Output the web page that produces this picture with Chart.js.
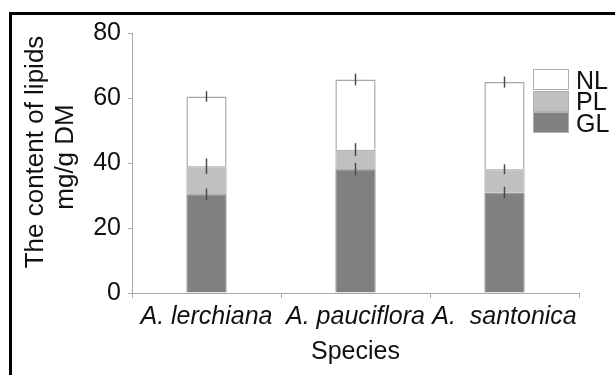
<!DOCTYPE html>
<html>
<head>
<meta charset="utf-8">
<script src="https://cdn.jsdelivr.net/npm/chart.js@4"></script>
<style>
    html, body { margin: 0; padding: 0; background: #fff; overflow: hidden; }
    #wrap { position: relative; width: 615px; height: 375px; }
    #frame {
        position: absolute; left: 9px; top: 12px; width: 620px; height: 380px;
        border-left: 3px solid #000; border-top: 3px solid #000; pointer-events: none;
    }
    .chart-html-legend { position: absolute; left: 533px; top: 69px; }
    .chart-legend-item { display: flex; align-items: center; height: 21.5px; }
    .chart-legend-color { width: 34px; height: 19px; border: 1px solid #b0b0b0; }
    .chart-legend-label {
        margin-left: 7px; font: 25px "Liberation Sans", Arial, sans-serif; color: #111; line-height: 20px;
    }
</style>
</head>
<body>
<div id="wrap">
    <canvas id="chart" width="615" height="375"></canvas>
    <div id="frame"></div>
</div>
<script>
const categories = ['A. lerchiana', 'A. pauciflora', 'A.  santonica'];
const glValues = [30.4, 38.1, 30.9];
const plValues = [8.6, 6.0, 7.2];
const nlValues = [21.5, 21.6, 26.8];
const glErrors = [1.8, 1.9, 1.8];
const plErrors = [2.4, 2.0, 1.5];
const nlErrors = [1.6, 1.8, 1.7];
const yTicks = [0, 20, 40, 60, 80];
const yTitleLines = ['The content of lipids', 'mg/g DM'];

const seriesErrors = [glErrors, plErrors, nlErrors];
const fontFamily = '"Liberation Sans", Arial, sans-serif';

// Error bars drawn at the top of each stacked segment
const errorBarPlugin = {
    id: 'errorBars',
    afterDatasetsDraw(chart) {
        const ctx = chart.ctx;
        const yScale = chart.scales.y;
        ctx.save();
        ctx.strokeStyle = '#4a4a4a';
        ctx.lineWidth = 1.5;
        chart.data.datasets.forEach((dataset, i) => {
            const meta = chart.getDatasetMeta(i);
            meta.data.forEach((bar, j) => {
                let top = 0;
                for (let k = 0; k <= i; k++) top += chart.data.datasets[k].data[j];
                const err = seriesErrors[i][j];
                ctx.beginPath();
                ctx.moveTo(bar.x, yScale.getPixelForValue(top + err));
                ctx.lineTo(bar.x, yScale.getPixelForValue(top - err));
                ctx.stroke();
            });
        });
        ctx.restore();
    }
};

// Rotated two-line y title, sits a bit above the plot's middle
const yTitlePlugin = {
    id: 'yTitle',
    afterDraw(chart) {
        const ctx = chart.ctx;
        const area = chart.chartArea;
        const mid = (area.top + area.bottom) / 2;
        const lines = [{ x: 36, dy: -11 }, { x: 66, dy: -6 }];
        ctx.save();
        ctx.fillStyle = '#111';
        ctx.font = '26px ' + fontFamily;
        ctx.textAlign = 'center';
        ctx.textBaseline = 'middle';
        yTitleLines.forEach((text, i) => {
            ctx.save();
            ctx.translate(lines[i].x, mid + lines[i].dy);
            ctx.rotate(-Math.PI / 2);
            ctx.fillText(text, 0, 0);
            ctx.restore();
        });
        ctx.restore();
    }
};

const chart = new Chart(document.getElementById('chart'), {
    type: 'bar',
    data: {
        labels: categories,
        datasets: [
            { label: 'GL', data: glValues, backgroundColor: '#808080', borderColor: '#737373', borderWidth: 1 },
            { label: 'PL', data: plValues, backgroundColor: '#c0c0c0', borderColor: '#9a9a9a', borderWidth: 1 },
            { label: 'NL', data: nlValues, backgroundColor: '#ffffff', borderColor: '#a8a8a8', borderWidth: 1.5 }
        ]
    },
    options: {
        responsive: false,
        animation: false,
        layout: { padding: { top: 33, right: 36, left: 0, bottom: 0 } },
        datasets: { bar: { categoryPercentage: 1, barPercentage: 0.27 } },
        plugins: {
            legend: { display: false },
            tooltip: { enabled: false }
        },
        scales: {
            x: {
                stacked: true,
                grid: { drawOnChartArea: false, color: '#aaaaaa', tickLength: 5 },
                border: { color: '#aaaaaa' },
                ticks: {
                    color: '#111',
                    font: { family: fontFamily, size: 25, style: 'italic' },
                    maxRotation: 0,
                    autoSkip: false,
                    padding: 4
                },
                title: {
                    display: true,
                    text: 'Species',
                    color: '#111',
                    font: { family: fontFamily, size: 25, lineHeight: 1.2 },
                    padding: { bottom: 8 }
                },
                afterFit(scale) { scale.height = 82; }
            },
            y: {
                stacked: true,
                min: 0,
                max: 80,
                afterBuildTicks(scale) { scale.ticks = yTicks.map(v => ({ value: v })); },
                grid: { drawOnChartArea: false, color: '#aaaaaa', tickLength: 4 },
                border: { color: '#aaaaaa' },
                ticks: {
                    color: '#111',
                    font: { family: fontFamily, size: 25 },
                    padding: 7
                },
                afterFit(scale) { scale.width = 132; }
            }
        }
    },
    plugins: [errorBarPlugin, yTitlePlugin]
});

// HTML legend, top to bottom NL / PL / GL
const legend = document.createElement('div');
legend.className = 'chart-html-legend';
legend.innerHTML = chart.data.datasets.slice().reverse().map(ds => `
    <span class="chart-legend-item">
        <span class="chart-legend-color" style="background: ${ds.backgroundColor};"></span>
        <span class="chart-legend-label">${ds.label}</span>
    </span>`).join('');
document.getElementById('wrap').appendChild(legend);
</script>
</body>
</html>
